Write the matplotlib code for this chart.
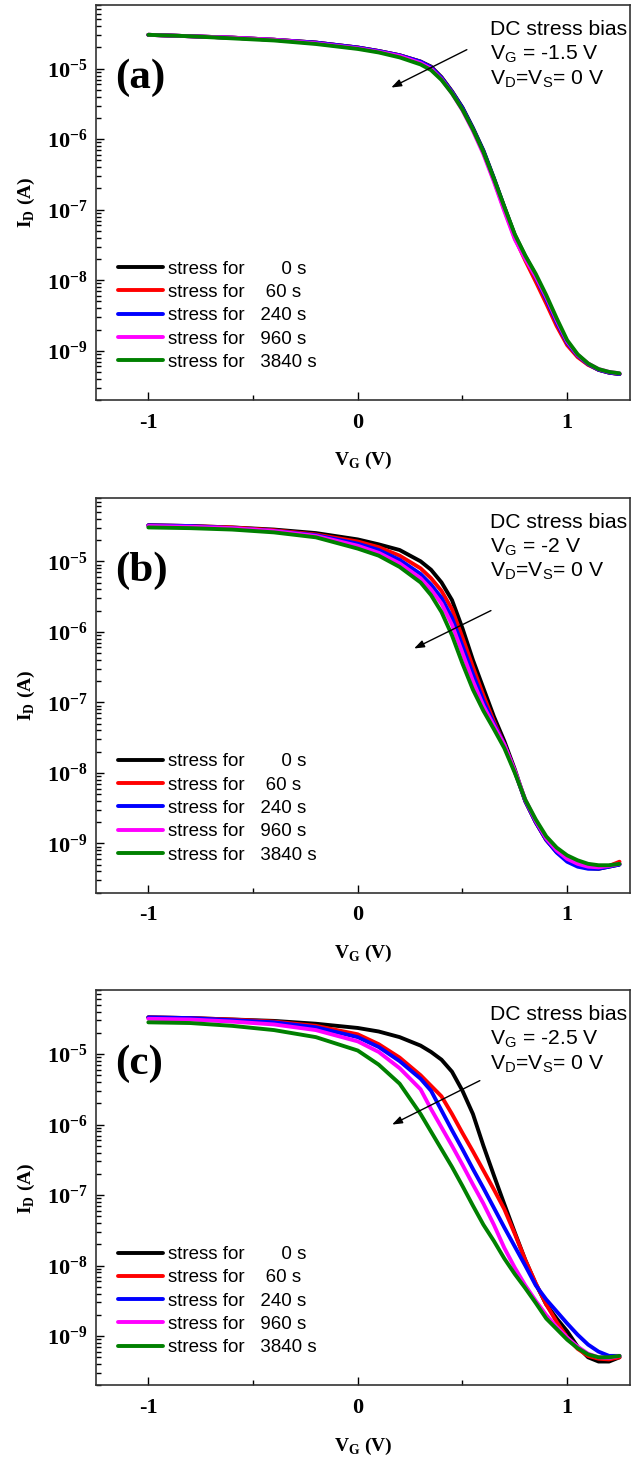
import numpy as np
import matplotlib
matplotlib.use("Agg")
import matplotlib.pyplot as plt
from matplotlib.ticker import LogLocator, MultipleLocator, NullFormatter

# gate voltage grid (V) shared by all curves
vg = [-1.0, -0.8, -0.6, -0.4, -0.2, 0.0, 0.1, 0.2, 0.3, 0.35, 0.4, 0.45, 0.5, 0.55,
      0.6, 0.65, 0.7, 0.75, 0.8, 0.85, 0.9, 0.95, 1.0, 1.05, 1.1, 1.15, 1.2, 1.25]

# log10(I_D / A)
# (a) V_G = -1.5 V
a_0s = [-4.52, -4.54, -4.56, -4.59, -4.63, -4.70, -4.75, -4.81, -4.90, -4.97, -5.12, -5.32, -5.55, -5.84,
        -6.16, -6.55, -6.96, -7.36, -7.66, -7.93, -8.24, -8.58, -8.88, -9.07, -9.19, -9.27, -9.31, -9.33]
a_60s = [-4.52, -4.54, -4.56, -4.59, -4.63, -4.70, -4.75, -4.81, -4.90, -4.98, -5.13, -5.33, -5.57, -5.86,
         -6.19, -6.58, -7.00, -7.40, -7.72, -8.02, -8.33, -8.65, -8.92, -9.09, -9.20, -9.27, -9.31, -9.33]
a_240s = [-4.52, -4.54, -4.56, -4.59, -4.63, -4.70, -4.75, -4.81, -4.90, -4.98, -5.13, -5.33, -5.56, -5.85,
          -6.17, -6.56, -6.97, -7.37, -7.68, -7.96, -8.27, -8.60, -8.89, -9.07, -9.19, -9.27, -9.31, -9.33]
a_960s = [-4.52, -4.54, -4.56, -4.59, -4.64, -4.71, -4.76, -4.82, -4.92, -5.00, -5.15, -5.35, -5.59, -5.88,
          -6.21, -6.60, -7.02, -7.42, -7.70, -7.95, -8.24, -8.57, -8.87, -9.06, -9.18, -9.26, -9.30, -9.32]
a_3840s = [-4.52, -4.54, -4.57, -4.60, -4.65, -4.72, -4.77, -4.84, -4.94, -5.02, -5.16, -5.35, -5.58, -5.86,
           -6.18, -6.56, -6.96, -7.35, -7.65, -7.91, -8.21, -8.54, -8.85, -9.05, -9.18, -9.26, -9.30, -9.32]

# (b) V_G = -2 V
b_0s = [-4.49, -4.50, -4.52, -4.55, -4.60, -4.69, -4.76, -4.84, -5.00, -5.12, -5.30, -5.55, -5.95, -6.40,
        -6.80, -7.20, -7.55, -7.95, -8.40, -8.70, -8.95, -9.12, -9.24, -9.31, -9.35, -9.36, -9.33, -9.30]
b_60s = [-4.49, -4.50, -4.52, -4.56, -4.62, -4.72, -4.80, -4.92, -5.10, -5.24, -5.42, -5.68, -6.08, -6.50,
         -6.90, -7.27, -7.60, -7.98, -8.40, -8.70, -8.95, -9.12, -9.24, -9.30, -9.34, -9.35, -9.32, -9.26]
b_240s = [-4.49, -4.50, -4.53, -4.57, -4.63, -4.75, -4.84, -4.98, -5.18, -5.33, -5.52, -5.80, -6.20, -6.60,
          -6.98, -7.30, -7.60, -7.98, -8.40, -8.70, -8.95, -9.13, -9.26, -9.33, -9.36, -9.36, -9.33, -9.30]
b_960s = [-4.50, -4.51, -4.53, -4.57, -4.64, -4.78, -4.88, -5.03, -5.24, -5.40, -5.60, -5.90, -6.30, -6.70,
          -7.05, -7.33, -7.60, -7.97, -8.38, -8.68, -8.93, -9.10, -9.22, -9.29, -9.33, -9.34, -9.32, -9.29]
b_3840s = [-4.52, -4.53, -4.55, -4.59, -4.66, -4.82, -4.92, -5.08, -5.30, -5.48, -5.72, -6.05, -6.45, -6.82,
           -7.12, -7.38, -7.65, -8.00, -8.38, -8.66, -8.90, -9.06, -9.17, -9.24, -9.29, -9.31, -9.31, -9.29]

# (c) V_G = -2.5 V
c_0s = [-4.48, -4.49, -4.51, -4.53, -4.57, -4.63, -4.68, -4.76, -4.88, -4.97, -5.08, -5.25, -5.52, -5.85,
        -6.30, -6.72, -7.13, -7.53, -7.92, -8.26, -8.55, -8.75, -8.93, -9.15, -9.30, -9.36, -9.36, -9.30]
c_60s = [-4.48, -4.49, -4.51, -4.54, -4.60, -4.72, -4.86, -5.05, -5.30, -5.45, -5.60, -5.85, -6.12, -6.38,
         -6.65, -6.92, -7.20, -7.55, -7.92, -8.25, -8.55, -8.80, -9.02, -9.18, -9.28, -9.32, -9.33, -9.30]
c_240s = [-4.48, -4.49, -4.52, -4.55, -4.62, -4.76, -4.90, -5.10, -5.35, -5.52, -5.80, -6.08, -6.35, -6.63,
          -6.90, -7.18, -7.46, -7.73, -8.00, -8.28, -8.48, -8.65, -8.82, -8.98, -9.12, -9.22, -9.28, -9.28]
c_960s = [-4.50, -4.51, -4.54, -4.58, -4.66, -4.82, -4.97, -5.20, -5.50, -5.78, -6.04, -6.30, -6.57, -6.85,
          -7.12, -7.42, -7.75, -8.03, -8.28, -8.50, -8.70, -8.87, -9.02, -9.15, -9.25, -9.30, -9.31, -9.28]
c_3840s = [-4.55, -4.56, -4.60, -4.66, -4.76, -4.95, -5.15, -5.42, -5.85, -6.10, -6.35, -6.60, -6.87, -7.15,
           -7.42, -7.65, -7.90, -8.12, -8.32, -8.53, -8.75, -8.90, -9.05, -9.17, -9.26, -9.30, -9.30, -9.28]

labels = ["stress for       0 s", "stress for    60 s", "stress for   240 s",
          "stress for   960 s", "stress for   3840 s"]
colors = ["black", "#ff0000", "#0000ff", "#ff00ff", "#008000"]

panels = [
    ("(a)", "-1.5", [a_0s, a_60s, a_240s, a_960s, a_3840s], (0.521, 1.86e-5), (0.16, 5.4e-6)),
    ("(b)", "-2", [b_0s, b_60s, b_240s, b_960s, b_3840s], (0.636, 2.0e-6), (0.269, 5.8e-7)),
    ("(c)", "-2.5", [c_0s, c_60s, c_240s, c_960s, c_3840s], (0.583, 4.2e-6), (0.164, 1.0e-6)),
]

plt.rcParams['font.family'] = 'Liberation Serif'
plt.rcParams['font.weight'] = 'bold'
plt.rcParams['axes.unicode_minus'] = False
plt.rcParams['mathtext.fontset'] = 'custom'
plt.rcParams['mathtext.rm'] = 'Liberation Serif:bold'
plt.rcParams['mathtext.bf'] = 'Liberation Serif:bold'

SANS = 'Liberation Sans'

fig = plt.figure(figsize=(6.31, 14.67), dpi=100)
bottoms = [0.7273, 0.3915, 0.0556]

for (tag, vstress, curves, tail, head), bottom in zip(panels, bottoms):
    ax = fig.add_axes([0.1521, bottom, 0.8463, 0.2693])
    for logi, col, lab in zip(curves, colors, labels):
        ax.plot(vg, 10 ** np.array(logi), color=col, lw=2.8, label=lab, solid_capstyle='round')
    ax.set_yscale('log')
    ax.set_xlim(-1.25, 1.3)
    ax.set_ylim(2.0e-10, 8.0e-5)
    ax.set_xticks([-1, 0, 1])
    ax.xaxis.set_minor_locator(MultipleLocator(0.5))
    ax.yaxis.set_major_locator(LogLocator(base=10, numticks=20))
    ax.yaxis.set_minor_locator(LogLocator(base=10, subs=np.arange(2, 10) * 1.0, numticks=20))
    ax.yaxis.set_minor_formatter(NullFormatter())
    ax.tick_params(which='both', direction='in', top=False, right=False, width=1, labelsize=16)
    ax.tick_params(which='major', length=6)
    ax.tick_params(which='minor', length=3.5)
    ax.tick_params(axis='y', pad=6)
    ax.tick_params(axis='x', pad=9)
    for sp in ax.spines.values():
        sp.set_linewidth(1.2)
        sp.set_color('#333333')

    ax.set_xlabel(r"V$_\mathregular{G}$ (V)", fontsize=14, fontweight='bold')
    ax.set_ylabel(r"I$_\mathregular{D}$ (A)", fontsize=14, fontweight='bold')
    ax.xaxis.set_label_coords(0.5, -0.127)
    ax.yaxis.set_label_coords(-0.11, 0.5)

    ax.text(0.0356, 0.815, tag, transform=ax.transAxes, fontsize=31, fontweight='bold',
            va='center', ha='left')

    ax.text(0.738, 0.924, "DC stress bias", transform=ax.transAxes, family=SANS,
            fontweight='normal', fontsize=15.2, va='baseline')
    ax.text(0.738, 0.862, r"V$_\mathregular{G}$ = " + vstress + " V", transform=ax.transAxes,
            family=SANS, fontweight='normal', fontsize=15.2, va='baseline')
    ax.text(0.738, 0.800, r"V$_\mathregular{D}$=V$_\mathregular{S}$= 0 V", transform=ax.transAxes,
            family=SANS, fontweight='normal', fontsize=15.2, va='baseline')

    ax.annotate("", xy=head, xytext=tail,
                arrowprops=dict(arrowstyle='-|>,head_length=0.6,head_width=0.22',
                                color='black', lw=1.0, shrinkA=0, shrinkB=0))

    ax.legend(loc='upper left', bbox_to_anchor=(0.041, 0.353), frameon=False,
              prop={'family': SANS, 'weight': 'normal', 'size': 13.5},
              handlelength=2.4, handletextpad=0.25, labelspacing=0.33,
              borderpad=0, borderaxespad=0)

fig.savefig("out.png", dpi=100)
